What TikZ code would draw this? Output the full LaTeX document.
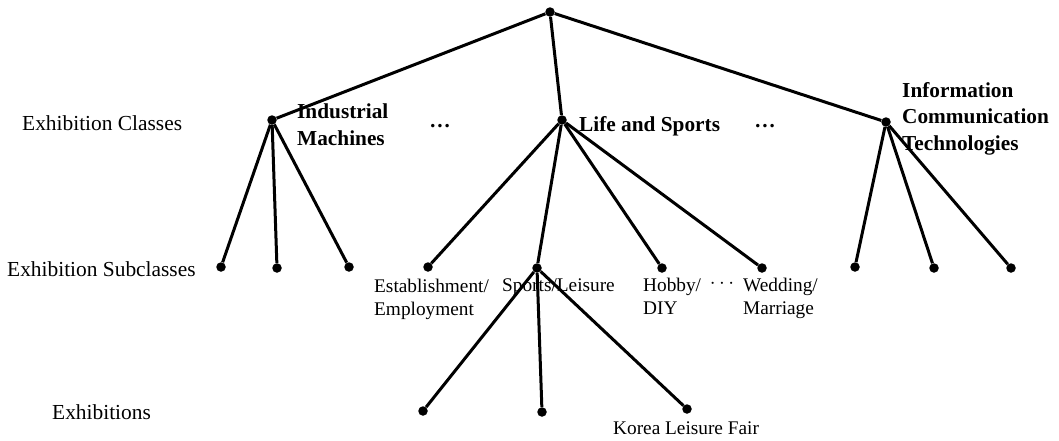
\documentclass[tikz,border=0pt]{standalone}
\usepackage{fontspec}
\setmainfont{Liberation Serif}
\begin{document}
\begin{tikzpicture}[
  x=1pt, y=-1pt,
  dot/.style={circle, fill=black, inner sep=0pt, minimum size=9.5pt},
  edge/.style={draw=black, line width=3pt},
  level/.style={inner sep=0pt, anchor=north west, font=\fontsize{21.4}{24}\selectfont},
  cls/.style={inner sep=0pt, anchor=north west, align=left,
              font=\fontsize{21.3}{26.5}\selectfont\bfseries},
  sub/.style={inner sep=0pt, anchor=north west, align=left,
              font=\fontsize{19.3}{22.5}\selectfont},
]
\useasboundingbox (0,0) rectangle (1059,440);

%% ── Level names (left) ────────────────────────────────────────────────────────
\node[level] (lvcls) at (22,115) {Exhibition Classes};
\node[level] (lvsub) at (7,261) {Exhibition Subclasses};
\node[level] (lvexh) at (52,404) {Exhibitions};

%% ── Root and classes ──────────────────────────────────────────────────────────
\node[dot] (root) at (550,12) {};
\node[dot] (ind)  at (272,120) {};
\node[dot] (life) at (562,120) {};
\node[dot] (ict)  at (886,122) {};
\draw[edge] (root) -- (ind);
\draw[edge] (root) -- (life);
\draw[edge] (root) -- (ict);

\node[cls] (indlbl)  at (297,104) {Industrial\\Machines};
\node[cls] (lifelbl) at (579,116) {Life and Sports};
\node[cls] (ictlbl)  at (902,82) {Information\\Communication\\Technologies};
\node[font=\fontsize{21.3}{26}\selectfont\bfseries, inner sep=0pt, anchor=base]
  (dotsa) at (440,127) {…};
\node[font=\fontsize{21.3}{26}\selectfont\bfseries, inner sep=0pt, anchor=base]
  (dotsb) at (765,127) {…};

%% ── Subclasses ────────────────────────────────────────────────────────────────
%% Industrial Machines
\node[dot] (ind1) at (221,267) {};
\node[dot] (ind2) at (277,268) {};
\node[dot] (ind3) at (349,267) {};
\draw[edge] (ind) -- (ind1);
\draw[edge] (ind) -- (ind2);
\draw[edge] (ind) -- (ind3);

%% Life and Sports
\node[dot] (est) at (428,267) {};
\node[dot] (spo) at (537,268) {};
\node[dot] (hob) at (662,268) {};
\node[dot] (wed) at (762,268) {};
\draw[edge] (life) -- (est);
\draw[edge] (life) -- (spo);
\draw[edge] (life) -- (hob);
\draw[edge] (life) -- (wed);

\node[sub] (estlbl) at (374,279) {Establishment/\\Employment};
\node[sub] (spolbl) at (502,279) {Sports/Leisure};
\node[sub] (hoblbl) at (643,278) {Hobby/\\DIY};
\node[sub] (wedlbl) at (743,278) {Wedding/\\Marriage};
\node[inner sep=0pt, anchor=base, font=\fontsize{19.3}{22.5}\selectfont]
  (dotsc) at (722,288) {$\cdots$};

%% Information Communication Technologies
\node[dot] (ict1) at (855,267) {};
\node[dot] (ict2) at (934,268) {};
\node[dot] (ict3) at (1011,268) {};
\draw[edge] (ict) -- (ict1);
\draw[edge] (ict) -- (ict2);
\draw[edge] (ict) -- (ict3);

%% ── Exhibitions ───────────────────────────────────────────────────────────────
\node[dot] (exh1) at (423,411) {};
\node[dot] (exh2) at (542,412) {};
\node[dot] (klf)  at (687,409) {};
\draw[edge] (spo) -- (exh1);
\draw[edge] (spo) -- (exh2);
\draw[edge] (spo) -- (klf);

\node[sub] (klflbl) at (613,422) {Korea Leisure Fair};

\end{tikzpicture}
\end{document}
